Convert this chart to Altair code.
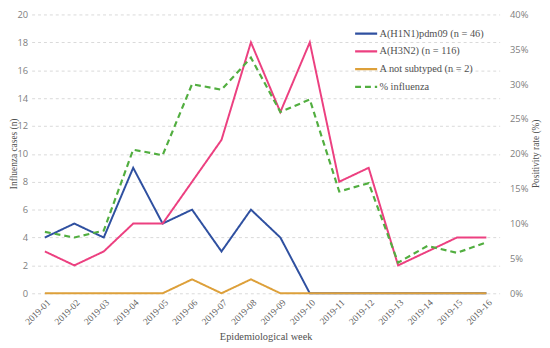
import altair as alt
import pandas as pd

weeks = ["2019-01", "2019-02", "2019-03", "2019-04", "2019-05", "2019-06", "2019-07", "2019-08",
         "2019-09", "2019-10", "2019-11", "2019-12", "2019-13", "2019-14", "2019-15", "2019-16"]
h1n1 = [4, 5, 4, 9, 5, 6, 3, 6, 4, 0, 0, 0, 0, 0, 0, 0]
h3n2 = [3, 2, 3, 5, 5, 8, 11, 18, 13, 18, 8, 9, 2, 3, 4, 4]
not_subtyped = [0, 0, 0, 0, 0, 1, 0, 1, 0, 0, 0, 0, 0, 0, 0, 0]
pct_influenza = [0.088, 0.080, 0.090, 0.206, 0.198, 0.300, 0.292, 0.338, 0.260, 0.278,
                 0.146, 0.158, 0.044, 0.068, 0.058, 0.073]

series_names = ["A(H1N1)pdm09 (n = 46)", "A(H3N2) (n = 116)", "A not subtyped (n = 2)", "% influenza"]
series_colors = ["#2F50A0", "#EC4080", "#DDA03A", "#52AE40"]
series_dash = [[1, 0], [1, 0], [1, 0], [6, 4]]

rows = []
for name, vals in zip(series_names[:3], [h1n1, h3n2, not_subtyped]):
    for w, v in zip(weeks, vals):
        rows.append({"week": w, "series": name, "cases": v})
df_cases = pd.DataFrame(rows)
df_pct = pd.DataFrame({"week": weeks, "series": series_names[3], "pct": pct_influenza})

serif = "Liberation Serif"
sans = "Open Sans"

color_scale = alt.Scale(domain=series_names, range=series_colors)
dash_scale = alt.Scale(domain=series_names, range=series_dash)
legend = alt.Legend(title=None, orient="none", legendX=327, legendY=7,
                    symbolType="stroke", symbolSize=500, symbolStrokeWidth=2.2,
                    labelFont=serif, labelFontSize=10.5, labelColor="#505050",
                    rowPadding=-5, labelOffset=1)

x_enc = alt.X("week:O", sort=weeks, scale=alt.Scale(type="point", padding=0.45),
              axis=alt.Axis(title="Epidemiological week", labelAngle=-45, labelFont=serif,
                            labelFontSize=9.5, labelColor="#606060", ticks=False, domain=False,
                            labelPadding=4, titleFont=serif, titleFontSize=10.5,
                            titleFontWeight="normal", titleColor="#505050", titlePadding=6,
                            grid=False))

cases = alt.Chart(df_cases).mark_line(strokeWidth=2).encode(
    x=x_enc,
    y=alt.Y("cases:Q", scale=alt.Scale(domain=[0, 20]),
            axis=alt.Axis(title="Influenza cases (n)", values=list(range(0, 21, 2)),
                          labelFont=sans, labelFontSize=9.5, labelColor="#808080",
                          ticks=False, domain=False, labelPadding=4,
                          grid=True, gridDash=[3, 3], gridColor="#d9d9d9",
                          titleFont=serif, titleFontSize=9.5, titleFontWeight="normal",
                          titleColor="#505050", titleX=-18, titleY=141,
                          titleAngle=270, titleAlign="center", titleBaseline="middle")),
    color=alt.Color("series:N", scale=color_scale, legend=legend),
    strokeDash=alt.StrokeDash("series:N", scale=dash_scale, legend=legend),
)

pct = alt.Chart(df_pct).mark_line(strokeWidth=2.2).encode(
    x=x_enc,
    y=alt.Y("pct:Q", scale=alt.Scale(domain=[0, 0.4]),
            axis=alt.Axis(title="Positivity rate (%)", orient="right", format=".0%",
                          values=[0, 0.05, 0.1, 0.15, 0.2, 0.25, 0.3, 0.35, 0.4],
                          labelFont=sans, labelFontSize=9.5, labelColor="#808080",
                          ticks=False, domain=False, labelPadding=10, grid=False,
                          titleFont=serif, titleFontSize=9.5, titleFontWeight="normal",
                          titleColor="#505050", titleX=36, titleY=141,
                          titleAngle=270, titleAlign="center", titleBaseline="middle")),
    color=alt.Color("series:N", scale=color_scale, legend=legend),
    strokeDash=alt.StrokeDash("series:N", scale=dash_scale, legend=legend),
)

chart = alt.layer(cases, pct).resolve_scale(y="independent").properties(
    width=475, height=283,
    autosize=alt.AutoSizeParams(type="none"),
    padding={"left": 24, "top": 4, "right": 43, "bottom": 53},
).configure_view(stroke=None)

chart.save("out.html", embed_options={"renderer": "svg", "actions": False})
